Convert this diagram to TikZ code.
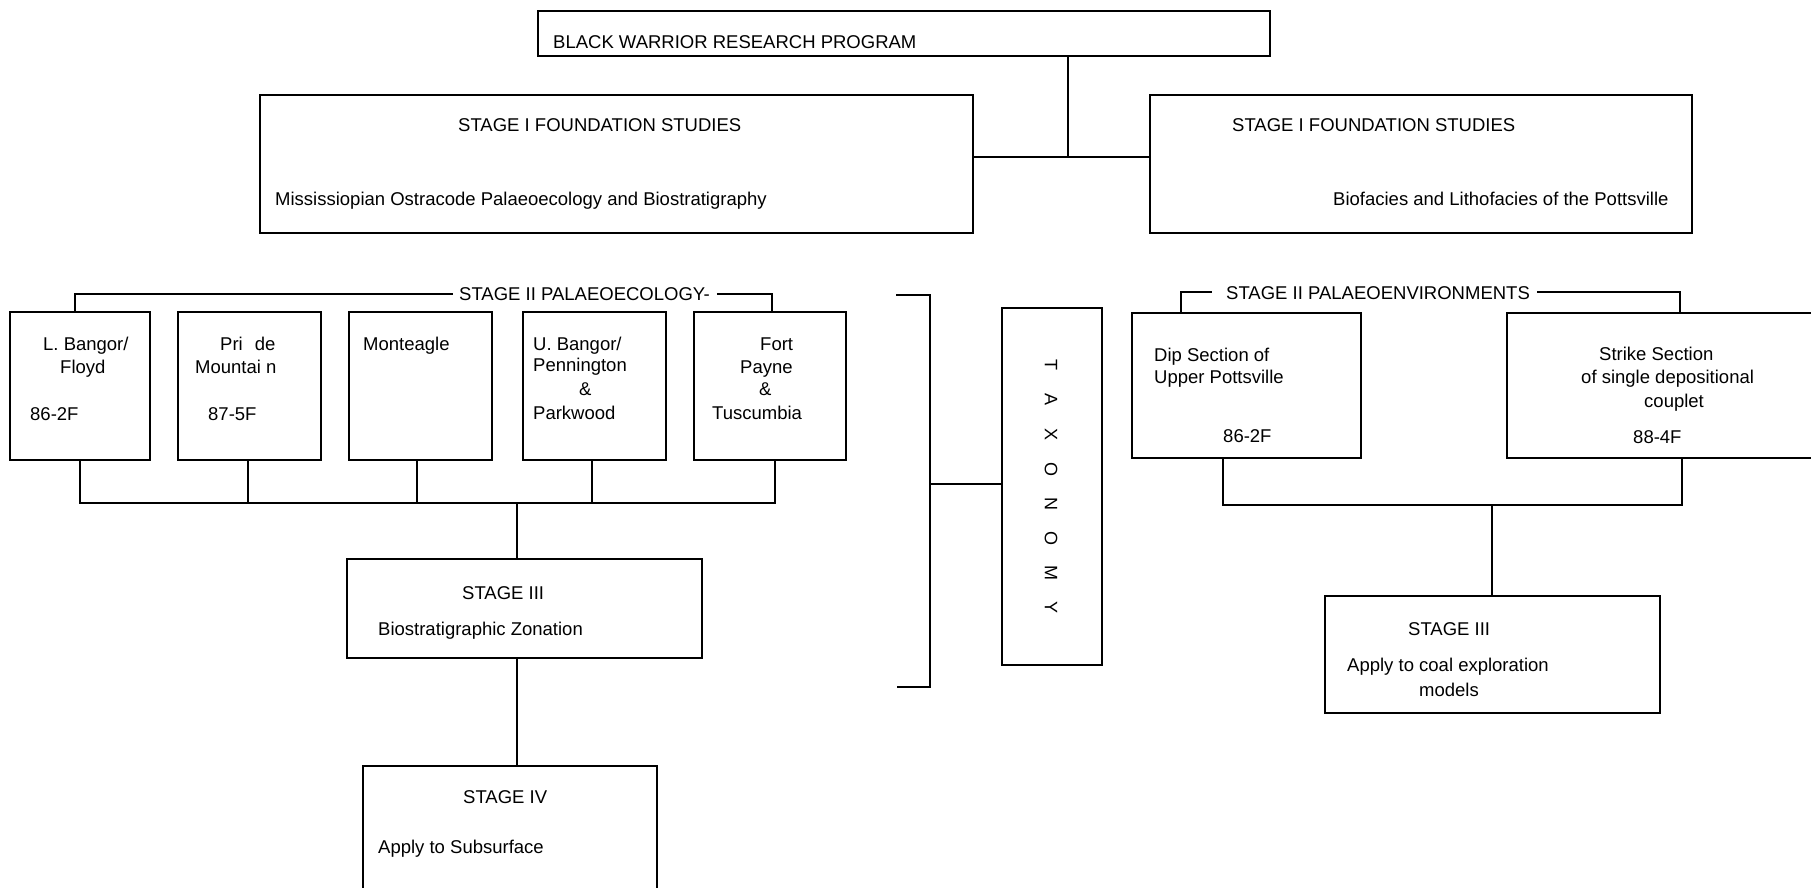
\documentclass[tikz,border=0pt]{standalone}
\usepackage{fontspec}
\setmainfont{Liberation Sans}
\begin{document}
\begin{tikzpicture}[x=1pt,y=-1pt,
  box/.style={draw, line width=1.8pt, inner sep=0pt, outer sep=0pt, anchor=north west},
  txt/.style={anchor=base west, inner sep=0pt, font=\fontsize{18.5pt}{22pt}\selectfont},
  letter/.style={inner sep=0pt, font=\fontsize{18pt}{22pt}\selectfont, rotate=-90},
  conn/.style={line width=1.8pt}]
\useasboundingbox (0,0) rectangle (1811,888);
\clip (0,0) rectangle (1811,888);
% ---- top ----
\node[box, minimum width=732pt, minimum height=45pt] (top) at (538,11) {};
\node[txt] (ttop) at (553,48.5) {BLACK WARRIOR RESEARCH PROGRAM};
\node[box, minimum width=713pt, minimum height=138pt] (s1l) at (260,95) {};
\node[box, minimum width=542pt, minimum height=138pt] (s1r) at (1150,95) {};
\node[txt] (ts1l) at (458,131.5) {STAGE I FOUNDATION STUDIES};
\node[txt] (ts1lb) at (275,205.5) {Mississiopian Ostracode Palaeoecology and Biostratigraphy};
\node[txt] (ts1r) at (1232,131.5) {STAGE I FOUNDATION STUDIES};
\node[txt] (ts1rb) at (1333,205.5) {Biofacies and Lithofacies of the Pottsville};
\coordinate (j0) at (1068,157);
\draw[conn] (top.south -| j0) -- (j0);
\draw[conn] (s1l.east |- j0) -- (s1r.west |- j0);
% ---- stage II left ----
\node[box, minimum width=140pt, minimum height=148pt] (b1) at (10,312) {};
\node[box, minimum width=143pt, minimum height=148pt] (b2) at (178,312) {};
\node[box, minimum width=143pt, minimum height=148pt] (b3) at (349,312) {};
\node[box, minimum width=143pt, minimum height=148pt] (b4) at (523,312) {};
\node[box, minimum width=152pt, minimum height=148pt] (b5) at (694,312) {};
\node[txt] (t2l) at (459,300.5) {STAGE II PALAEOECOLOGY-};
\coordinate (brl1) at (75,294);
\coordinate (brl2) at (772,294);
\draw[conn] (b1.north -| brl1) -- (brl1) -- ([xshift=-6pt]t2l.west |- brl1);
\draw[conn] ([xshift=7pt]t2l.east |- brl2) -- (brl2) -- (b5.north -| brl2);
\node[txt] (b1a) at (43,350) {L. Bangor/};
\node[txt] (b1b) at (60,373.5) {Floyd};
\node[txt] (b1c) at (30,420.5) {86-2F};
\node[txt] (b2a) at (220,350) {Pri\hspace{12pt}de};
\node[txt] (b2b) at (195,373.5) {Mountai n};
\node[txt] (b2c) at (208,420.5) {87-5F};
\node[txt] (b3a) at (363,350) {Monteagle};
\node[txt] (b4a) at (533,350) {U. Bangor/};
\node[txt] (b4b) at (533,371.5) {Pennington};
\node[txt] (b4c) at (579,395) {\&};
\node[txt] (b4d) at (533,419.5) {Parkwood};
\node[txt] (b5a) at (760,350) {Fort};
\node[txt] (b5b) at (740,373.5) {Payne};
\node[txt] (b5c) at (759,395) {\&};
\node[txt] (b5d) at (712,419.5) {Tuscumbia};
\coordinate (jl) at (517,503);
\coordinate (c1) at (80,503);
\coordinate (c2) at (248,503);
\coordinate (c3) at (417,503);
\coordinate (c4) at (592,503);
\coordinate (c5) at (775,503);
\draw[conn] (b1.south -| c1) -- (c1) -- (c5) -- (b5.south -| c5);
\draw[conn] (b2.south -| c2) -- (c2);
\draw[conn] (b3.south -| c3) -- (c3);
\draw[conn] (b4.south -| c4) -- (c4);
% ---- stage III / IV left ----
\node[box, minimum width=355pt, minimum height=99pt] (s3l) at (347,559) {};
\node[txt] (ts3l) at (462,599.5) {STAGE III};
\node[txt] (ts3lb) at (378,635.5) {Biostratigraphic Zonation};
\draw[conn] (jl) -- (s3l.north -| jl);
\node[box, minimum width=294pt, minimum height=140pt] (s4) at (363,766) {};
\node[txt] (ts4) at (463,803.5) {STAGE IV};
\node[txt] (ts4b) at (378,853.5) {Apply to Subsurface};
\draw[conn] (s3l.south -| jl) -- (s4.north -| jl);
% ---- taxonomy ----
\node[box, minimum width=100pt, minimum height=357pt] (tax) at (1002,308) {};
\foreach \l [count=\i] in {T,A,X,O,N,O,M,Y}
  \node[letter] (tx\i) at (1051,{365+34.7*(\i-1)}) {\l};
\coordinate (tb1) at (896,295);
\coordinate (tb2) at (930,295);
\coordinate (tb3) at (930,687);
\coordinate (tb4) at (897,687);
\coordinate (tbm) at (930,484);
\draw[conn] (tb1) -- (tb2) -- (tb3) -- (tb4);
\draw[conn] (tbm) -- (tax.west |- tbm);
% ---- stage II right ----
\node[box, minimum width=229pt, minimum height=145pt] (dip) at (1132,313) {};
\node[box, minimum width=330pt, minimum height=145pt] (strike) at (1507,313) {};
\node[txt] (t2r) at (1226,299) {STAGE II PALAEOENVIRONMENTS};
\coordinate (brr1) at (1181,292);
\coordinate (brr2) at (1680,292);
\draw[conn] (dip.north -| brr1) -- (brr1) -- ([xshift=-14pt]t2r.west |- brr1);
\draw[conn] ([xshift=7pt]t2r.east |- brr2) -- (brr2) -- (strike.north -| brr2);
\node[txt] (da) at (1154,361.5) {Dip Section of};
\node[txt] (db) at (1154,383.5) {Upper Pottsville};
\node[txt] (dc) at (1223,442.5) {86-2F};
\node[txt] (sa) at (1599,360.5) {Strike Section};
\node[txt] (sb) at (1581,383.5) {of single depositional};
\node[txt] (sc) at (1644,407.5) {couplet};
\node[txt] (sd) at (1633,443) {88-4F};
\coordinate (dj) at (1223,505);
\coordinate (sj) at (1682,505);
\coordinate (jr) at (1492,505);
\draw[conn] (dip.south -| dj) -- (dj) -- (sj) -- (strike.south -| sj);
\node[box, minimum width=335pt, minimum height=117pt] (s3r) at (1325,596) {};
\node[txt] (ts3r) at (1408,635.5) {STAGE III};
\node[txt] (ts3rb) at (1347,671.5) {Apply to coal exploration};
\node[txt] (ts3rc) at (1419,696.5) {models};
\draw[conn] (jr) -- (s3r.north -| jr);
\end{tikzpicture}
\end{document}
